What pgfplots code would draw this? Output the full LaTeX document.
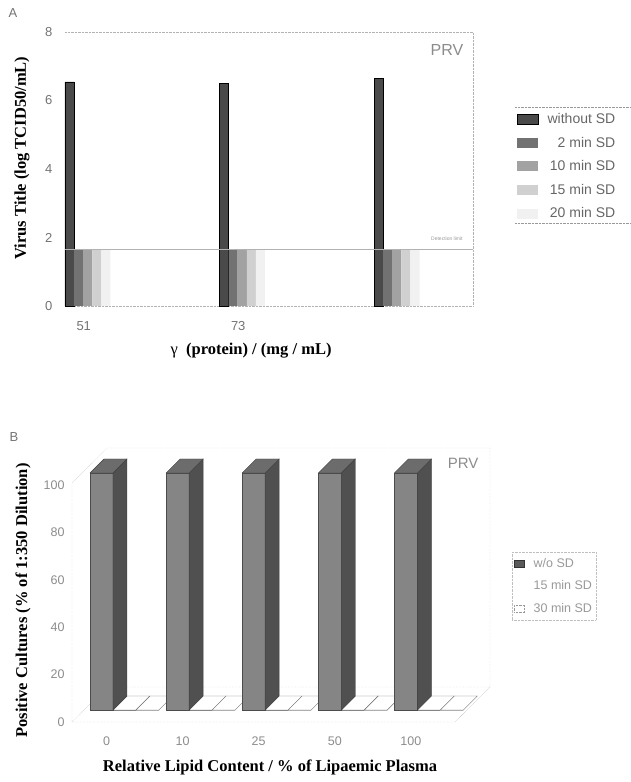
\documentclass[border=0pt]{standalone}
\usepackage{fontspec}
\setmainfont{Liberation Serif}
\setsansfont{Liberation Sans}
\usepackage{pgfplots}
\pgfplotsset{compat=1.18}
\definecolor{cA0}{HTML}{4A4A4A}
\definecolor{cA1}{HTML}{727272}
\definecolor{cA2}{HTML}{A2A2A2}
\definecolor{cA3}{HTML}{D0D0D0}
\definecolor{cA4}{HTML}{F1F1F1}
\definecolor{bFront}{HTML}{858585}
\definecolor{bSide}{HTML}{505050}
\definecolor{bTop}{HTML}{6C6C6C}
\pgfplotsset{
  dep/.style={xshift=12pt, yshift=12pt, forget plot, mark=none},
  flat/.style={dep, fill=white, draw=black!55, line width=0.4pt},
  bside/.style={dep, fill=bSide, draw=black!75, line width=0.4pt},
  btop/.style={dep, fill=bTop, draw=black!75, line width=0.4pt},
}
\tikzset{lbl/.style={font=\bfseries\fontsize{16.5}{18}\selectfont}}
\begin{document}
\begin{tikzpicture}
\useasboundingbox (0pt,0pt) rectangle (631pt,782pt);
\node[font=\sffamily\fontsize{13}{13}\selectfont, text=black!55] at (13pt,769pt) {A};
\node[font=\sffamily\fontsize{13}{13}\selectfont, text=black!55] at (14pt,345pt) {B};

% ---------------- Panel A ----------------
\begin{axis}[
  at={(65pt,476pt)}, anchor=south west, scale only axis,
  width=408pt, height=274pt,
  xmin=-0.1472, xmax=2.4935, ymin=0, ymax=8,
  ybar=0pt, bar width=9.1pt,
  xtick={0,1,2}, xticklabels={51,73,{}},
  ytick={0,2,4,6,8},
  axis line style={draw=none},
  major tick length=0pt,
  clip=false,
  /pgf/number format/assume math mode=true,
  tick label style={font=\sffamily\fontsize{13}{13}\selectfont, text=black!55},
  yticklabel style={xshift=-9pt},
  xticklabel style={yshift=-12pt, xshift=-4pt},
  xlabel={\textmd{γ}\ \ (protein) / (mg / mL)},
  ylabel={Virus Title (log TCID50/mL)},
  every axis x label/.style={at={(axis description cs:0.456,-0.161)}, anchor=center, lbl},
  every axis y label/.style={at={(axis description cs:-0.1054,0.54)}, anchor=center, rotate=90, lbl},
  legend style={at={(1.103,0.726)}, anchor=north west, draw=none, fill=none,
    font=\sffamily\fontsize{14}{15}\selectfont, text=black!60, row sep=8pt,
    inner xsep=2pt, inner ysep=4pt,
    /tikz/every odd column/.append style={column sep=7pt}},
  legend cell align=right,
  legend image code/.code={\path[#1, solid] (0pt,-5pt) rectangle (21pt,5pt);},
]
\draw[black!30, densely dotted] (rel axis cs:0,1) -- (rel axis cs:1,1) -- (rel axis cs:1,0) -- (rel axis cs:0,0);
\draw[black!40, densely dotted] (rel axis cs:1.103,0.726) -- (rel axis cs:1.39,0.726);
\draw[black!40, densely dotted] (rel axis cs:1.103,0.303) -- (rel axis cs:1.39,0.303);
\addplot[fill=cA0, draw=black] coordinates {(0,6.54) (1,6.50) (2,6.64)};
\addplot[fill=cA1, draw=none] coordinates {(0,1.66) (1,1.66) (2,1.66)};
\addplot[fill=cA2, draw=none] coordinates {(0,1.66) (1,1.66) (2,1.66)};
\addplot[fill=cA3, draw=none] coordinates {(0,1.66) (1,1.66) (2,1.66)};
\addplot[fill=cA4, draw=none] coordinates {(0,1.66) (1,1.66) (2,1.66)};
\legend{without SD, 2 min SD, 10 min SD, 15 min SD, 20 min SD}
\draw[black!30] (axis cs:-0.1472,1.66) -- (axis cs:2.4935,1.66);
\node[font=\sffamily\fontsize{16}{16}\selectfont, text=black!45] at (rel axis cs:0.936,0.934) {PRV};
\node[font=\sffamily\fontsize{5}{5}\selectfont, text=black!40] at (rel axis cs:0.936,0.245) {Detection limit};
\end{axis}

% ---------------- Panel B ----------------
\begin{axis}[
  at={(72pt,60pt)}, anchor=south west, scale only axis,
  width=383pt, height=239pt,
  xmin=-0.23, xmax=4.803, ymin=0, ymax=100.84,
  xtick={0,1,2,3,4}, xticklabels={0,10,25,50,100},
  ytick={0,20,40,60,80,100},
  axis line style={draw=none},
  major tick length=0pt,
  clip=false,
  /pgf/number format/assume math mode=true,
  tick label style={font=\sffamily\fontsize{12.5}{13}\selectfont, text=black!45},
  yticklabel style={xshift=-4pt},
  xticklabel style={xshift=17pt, yshift=-11pt},
  xlabel={Relative Lipid Content / \% of Lipaemic Plasma},
  ylabel={Positive Cultures (\% of 1:350 Dilution)},
  every axis x label/.style={at={(axis description cs:0.517,-0.192)}, anchor=center, lbl},
  every axis y label/.style={at={(axis description cs:-0.128,0.508)}, anchor=center, rotate=90, lbl},
  legend style={at={(1.149,0.711)}, anchor=north west, draw=black!25, densely dotted,
    font=\sffamily\fontsize{12.5}{13}\selectfont, text=black!40, row sep=8pt,
    inner xsep=2pt, inner ysep=4pt,
    /tikz/every odd column/.append style={column sep=7pt}},
  legend cell align=left,
  legend image code/.code={\path[#1] (0pt,-3.5pt) rectangle (10pt,3.5pt);},
]
\draw[black!30, densely dotted] (rel axis cs:0,0) -- (rel axis cs:0,1) -- ++(35pt,35pt)
  -- ([shift={(35pt,35pt)}]rel axis cs:1,1) -- ([shift={(35pt,35pt)}]rel axis cs:1,0)
  -- (rel axis cs:1,0) -- (rel axis cs:0,0) -- ++(35pt,35pt)
  -- ([shift={(35pt,35pt)}]rel axis cs:1,0);
% flat (zero-height) bars: 15 min SD and 30 min SD
\addplot[flat] coordinates {(0.151,0) (0.453,0) (0.637,5.91) (0.335,5.91) (0.151,0)};
\addplot[flat] coordinates {(0.453,0) (0.755,0) (0.939,5.91) (0.637,5.91) (0.453,0)};
\addplot[flat] coordinates {(1.151,0) (1.453,0) (1.637,5.91) (1.335,5.91) (1.151,0)};
\addplot[flat] coordinates {(1.453,0) (1.755,0) (1.939,5.91) (1.637,5.91) (1.453,0)};
\addplot[flat] coordinates {(2.151,0) (2.453,0) (2.637,5.91) (2.335,5.91) (2.151,0)};
\addplot[flat] coordinates {(2.453,0) (2.755,0) (2.939,5.91) (2.637,5.91) (2.453,0)};
\addplot[flat] coordinates {(3.151,0) (3.453,0) (3.637,5.91) (3.335,5.91) (3.151,0)};
\addplot[flat] coordinates {(3.453,0) (3.755,0) (3.939,5.91) (3.637,5.91) (3.453,0)};
\addplot[flat] coordinates {(4.151,0) (4.453,0) (4.637,5.91) (4.335,5.91) (4.151,0)};
\addplot[flat] coordinates {(4.453,0) (4.755,0) (4.939,5.91) (4.637,5.91) (4.453,0)};
% front faces
\addplot[dep, ybar, bar width=23pt, bar shift=0pt, fill=bFront, draw=black!70]
  coordinates {(0,100) (1,100) (2,100) (3,100) (4,100)};
\addplot[dep, ybar, bar width=23pt, bar shift=23pt, draw=black!70]
  coordinates {(0,0) (1,0) (2,0) (3,0) (4,0)};
\addplot[dep, ybar, bar width=23pt, bar shift=46pt, draw=black!45]
  coordinates {(0,0) (1,0) (2,0) (3,0) (4,0)};
% side faces
\addplot[bside] coordinates {(0.151,0) (0.335,5.91) (0.335,105.91) (0.151,100) (0.151,0)};
\addplot[bside] coordinates {(1.151,0) (1.335,5.91) (1.335,105.91) (1.151,100) (1.151,0)};
\addplot[bside] coordinates {(2.151,0) (2.335,5.91) (2.335,105.91) (2.151,100) (2.151,0)};
\addplot[bside] coordinates {(3.151,0) (3.335,5.91) (3.335,105.91) (3.151,100) (3.151,0)};
\addplot[bside] coordinates {(4.151,0) (4.335,5.91) (4.335,105.91) (4.151,100) (4.151,0)};
% top faces
\addplot[btop] coordinates {(-0.151,100) (0.151,100) (0.335,105.91) (0.033,105.91) (-0.151,100)};
\addplot[btop] coordinates {(0.849,100) (1.151,100) (1.335,105.91) (1.033,105.91) (0.849,100)};
\addplot[btop] coordinates {(1.849,100) (2.151,100) (2.335,105.91) (2.033,105.91) (1.849,100)};
\addplot[btop] coordinates {(2.849,100) (3.151,100) (3.335,105.91) (3.033,105.91) (2.849,100)};
\addplot[btop] coordinates {(3.849,100) (4.151,100) (4.335,105.91) (4.033,105.91) (3.849,100)};
\addlegendimage{fill=black!65, draw=black!80, solid}
\addlegendentry{w/o SD}
\addlegendimage{fill=white, draw=white, solid}
\addlegendentry{15 min SD}
\addlegendimage{fill=white, draw=black!40, densely dotted}
\addlegendentry{30 min SD}
\node[font=\sffamily\fontsize{15}{15}\selectfont, text=black!45] at (rel axis cs:1.021,1.084) {PRV};
\end{axis}
\end{tikzpicture}
\end{document}
